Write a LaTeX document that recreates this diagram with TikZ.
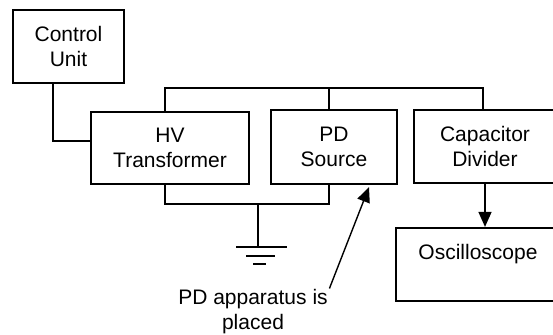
\documentclass[tikz,border=0pt]{standalone}
\usepackage{fontspec}
\setmainfont{Liberation Sans}
\usetikzlibrary{arrows.meta}
\begin{document}
\begin{tikzpicture}[x=1pt,y=1pt,
  box/.style={draw, line width=2.2pt, rectangle, align=center, inner sep=0pt,
              font=\fontsize{21}{25}\selectfont},
  wire/.style={line width=1.4pt},
  gnd/.style={line width=1.3pt},
  arr/.style={line width=1.4pt, -{Triangle[length=15pt,width=13pt]}},
  lbl/.style={align=center, inner sep=0pt, font=\fontsize{21}{25}\selectfont}]
\useasboundingbox (0,0) rectangle (553,-334);
\begin{scope}
\clip (0,0) rectangle (553,-334);
\node[box, minimum width=111pt, minimum height=73pt] (cu) at (68.5,-46.5) {Control\\Unit};
\node[box, minimum width=158pt, minimum height=72pt] (hv) at (170,-148) {HV\\Transformer};
\node[box, minimum width=126pt, minimum height=74pt] (ps) at (334,-147) {PD\\Source};
\node[box, minimum width=142pt, minimum height=73pt] (cap) at (485,-146.5) {Capacitor\\Divider};
\node[box, minimum width=164pt, minimum height=73pt] (osc) at (478,-264.5) {Oscilloscope\\~};
\node[lbl] (txt) at (253,-312) {PD apparatus is\\placed};
\coordinate (top) at (0,-88);
\coordinate (bot) at (0,-204);
\coordinate (g) at (258,-247);
% control unit to transformer
\draw[wire] ([xshift=-15.5pt]cu.south) |- ([yshift=7pt]hv.west);
% top bus
\draw[wire] ([xshift=-5pt]hv.north) |- ([xshift=-2pt]cap.north |- top) -- ([xshift=-2pt]cap.north);
\draw[wire] ([xshift=-5pt]ps.north) -- ([xshift=-5pt]ps.north |- top);
% bottom bus
\draw[wire] ([xshift=-5pt]hv.south) |- ([xshift=-5pt]ps.south |- bot) -- ([xshift=-5pt]ps.south);
% ground
\draw[wire] (g |- bot) -- (g);
\draw[gnd] (236,-247) -- (287,-247);
\draw[gnd] (246,-256) -- (275,-256);
\draw[gnd] (253,-264) -- (266,-264);
% arrows
\draw[arr] (cap.south) -- (cap.south |- osc.north);
\draw[arr] ([shift={(1.5pt,1pt)}]txt.north east) -- ([shift={(35pt,-2pt)}]ps.south);
\end{scope}
\end{tikzpicture}
\end{document}
